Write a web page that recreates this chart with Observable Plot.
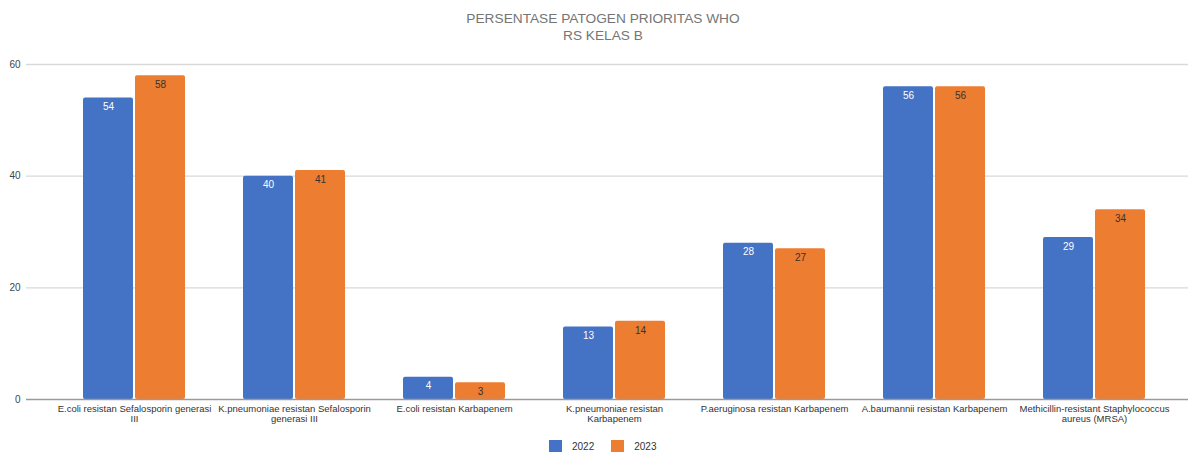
<!DOCTYPE html>
<html>
<head>
<meta charset="utf-8">
<script src="https://cdn.jsdelivr.net/npm/d3@7"></script>
<script src="https://cdn.jsdelivr.net/npm/@observablehq/plot@0.6"></script>
<style>
  html, body { margin: 0; padding: 0; background: #fff; }
  #wrap { position: relative; width: 1190px; height: 452px; overflow: hidden; font-family: "Liberation Sans", Arial, sans-serif; }
  #title { position: absolute; left: 16px; top: 10px; width: 1174px; text-align: center; color: #757575; font-size: 13.7px; line-height: 17px; }
  #chart { position: absolute; left: 0; top: 50px; }
  #legend { position: absolute; left: 549px; top: 440px; display: flex; align-items: center; font-size: 10px; color: #333; }
  #legend .item { display: flex; align-items: center; margin-right: 17px; }
  #legend .sw { width: 13px; height: 12px; margin-right: 10px; }
</style>
</head>
<body>
<div id="wrap">
  <div id="title">PERSENTASE PATOGEN PRIORITAS WHO<br>RS KELAS B</div>
  <div id="chart"></div>
  <div id="legend"></div>
</div>
<script>
// Pathogen categories (line breaks follow the axis label wrapping)
const categories = [
  "E.coli resistan Sefalosporin generasi\nIII",
  "K.pneumoniae resistan Sefalosporin\ngenerasi III",
  "E.coli resistan Karbapenem",
  "K.pneumoniae resistan\nKarbapenem",
  "P.aeruginosa resistan Karbapenem",
  "A.baumannii resistan Karbapenem",
  "Methicillin-resistant Staphylococcus\naureus (MRSA)"
];
const values2022 = [54, 40, 4, 13, 28, 56, 29];
const values2023 = [58, 41, 3, 14, 27, 56, 34];
const years = ["2022", "2023"];
const colors = ["#4472C4", "#ED7D31"];
const yTicks = [0, 20, 40, 60];

const rows2022 = categories.map((c, i) => ({category: c, year: years[0], value: values2022[i]}));
const rows2023 = categories.map((c, i) => ({category: c, year: years[1], value: values2023[i]}));

const chart = Plot.plot({
  width: 1190,
  height: 385,
  marginTop: 14,
  marginBottom: 36,
  marginLeft: 26,
  marginRight: 2,
  style: {fontFamily: "Liberation Sans, Arial, sans-serif", fontSize: "9.5px", background: "white"},
  x: {type: "band", domain: categories, range: [54, 1174], paddingInner: 0.3625, paddingOuter: 0.18125},
  y: {domain: [0, 60]},
  marks: [
    Plot.ruleY(yTicks.filter(d => d > 0), {stroke: "#d9d9d9", strokeWidth: 1.3}),
    Plot.barY(rows2022, {x: "category", y: "value", fill: colors[0], insetRight: 52, rx: 2}),
    Plot.barY(rows2023, {x: "category", y: "value", fill: colors[1], insetLeft: 52, rx: 2}),
    Plot.ruleY([0], {stroke: "#9a9a9a", strokeWidth: 1.4}),
    Plot.text(rows2022, {x: "category", y: "value", text: d => String(d.value), dx: -26, dy: 9, fill: "white", fontSize: 10}),
    Plot.text(rows2023, {x: "category", y: "value", text: d => String(d.value), dx: 26, dy: 9, fill: "#333", fontSize: 10}),
    Plot.axisY({ticks: yTicks, tickSize: 0, tickPadding: 6, label: null, fill: "#444", fontSize: 10}),
    Plot.axisX({tickSize: 0, tickPadding: 5, label: null, fill: "#333", lineHeight: 1.05})
  ]
});
document.getElementById("chart").appendChild(chart);

// Legend built from the same year/colour arrays
const legend = document.getElementById("legend");
years.forEach((y, i) => {
  const item = document.createElement("div");
  item.className = "item";
  const sw = document.createElement("div");
  sw.className = "sw";
  sw.style.background = colors[i];
  const label = document.createElement("span");
  label.textContent = y;
  item.appendChild(sw);
  item.appendChild(label);
  legend.appendChild(item);
});
</script>
</body>
</html>
